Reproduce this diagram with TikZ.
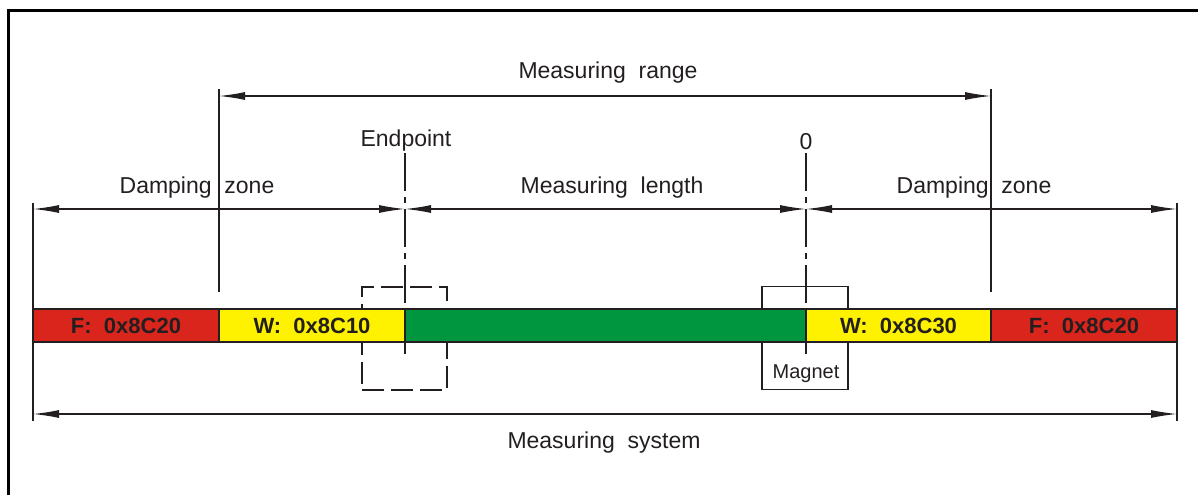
\documentclass[tikz,border=0pt]{standalone}
\usepackage{fontspec}
\setmainfont[WordSpace=2]{Liberation Sans}
\usetikzlibrary{arrows.meta}
\definecolor{zonered}{RGB}{218,37,29}
\definecolor{zoneyellow}{RGB}{255,242,0}
\definecolor{zonegreen}{RGB}{0,150,64}
\definecolor{ink}{RGB}{35,31,32}

\begin{document}
\begin{tikzpicture}[x=1pt, y=-1pt,
		dim/.style={{Latex[length=26pt,width=8pt]}-{Latex[length=26pt,width=8pt]}, line width=1.3pt, ink},
		ext/.style={line width=1.3pt, ink},
		centre/.style={line width=1.3pt, ink, dash pattern=on 38pt off 6pt on 6pt off 6pt},
		zonebox/.style={draw=ink, line width=1.2pt, minimum height=33pt, inner sep=0pt, text=ink, font=\fontsize{22}{24}\selectfont\bfseries},
		txt/.style={anchor=base, text=ink, font=\fontsize{23}{27}\selectfont}]
		% drawing area and frame
		\useasboundingbox (0,0) rectangle (1198,495);
		\draw[line width=3pt] (8,495) -- (8,10.5) -- (1198,10.5);
		% ends of the zones on the three dimension levels
		\foreach \n/\x in {0/33,1/219,2/405,3/806,4/991,5/1177}
		{
			\coordinate (hi\n) at (\x,96);
			\coordinate (mid\n) at (\x,209);
			\coordinate (lo\n) at (\x,414);
		}
		% extension lines
		\foreach \x in {33,1177}
		{
			\draw[ext] (\x,203) -- (\x,421);
		}
		\foreach \x in {219,991}
		{
			\draw[ext] (\x,89) -- (\x,292);
		}
		% endpoint (dashed) and magnet boxes
		\node[draw=ink, line width=1.3pt, dash pattern=on 22pt off 7pt, minimum width=85pt, minimum height=103pt, inner sep=0pt] (endbox) at (404.5,338.5) {};
		\node[draw=ink, line width=1.3pt, minimum width=86pt, minimum height=103pt, inner sep=0pt] (magbox) at (805,338) {};
		% centre lines of endpoint and 0
		\foreach \x in {405,806}
		{
			\draw[centre] (\x,153) -- (\x,354);
		}
		% zones of the measuring system
		\foreach \a/\b/\col/\lab [count=\i] in {33/219/zonered/{F: 0x8C20}, 219/405/zoneyellow/{W: 0x8C10}, 405/806/zonegreen/{}, 806/991/zoneyellow/{W: 0x8C30}, 991/1177/zonered/{F: 0x8C20}}
		{
			\node[zonebox, fill=\col, minimum width={(\b-\a)*1pt}] (zone\i) at ({(\a+\b)/2},325.5) {\lab};
		}
		% dimensions
		\draw[dim] (hi1) -- (hi4);
		\draw[dim] (mid0) -- (mid2);
		\draw[dim] (mid2) -- (mid3);
		\draw[dim] (mid3) -- (mid5);
		\draw[dim] (lo0) -- (lo5);
		% labels
		\node[txt] (range) at (608,78) {Measuring range};
		\node[txt] (dampl) at (197,193) {Damping zone};
		\node[txt] (length) at (612,193) {Measuring length};
		\node[txt] (dampr) at (974,193) {Damping zone};
		\node[txt] (endpt) at (406,146) {Endpoint};
		\node[txt] (zero) at (806,149) {0};
		\node[txt] (system) at (604,448) {Measuring system};
		\node[txt, font=\fontsize{20}{24}\selectfont] (magnet) at (806,378) {Magnet};
	\end{tikzpicture}
\end{document}
